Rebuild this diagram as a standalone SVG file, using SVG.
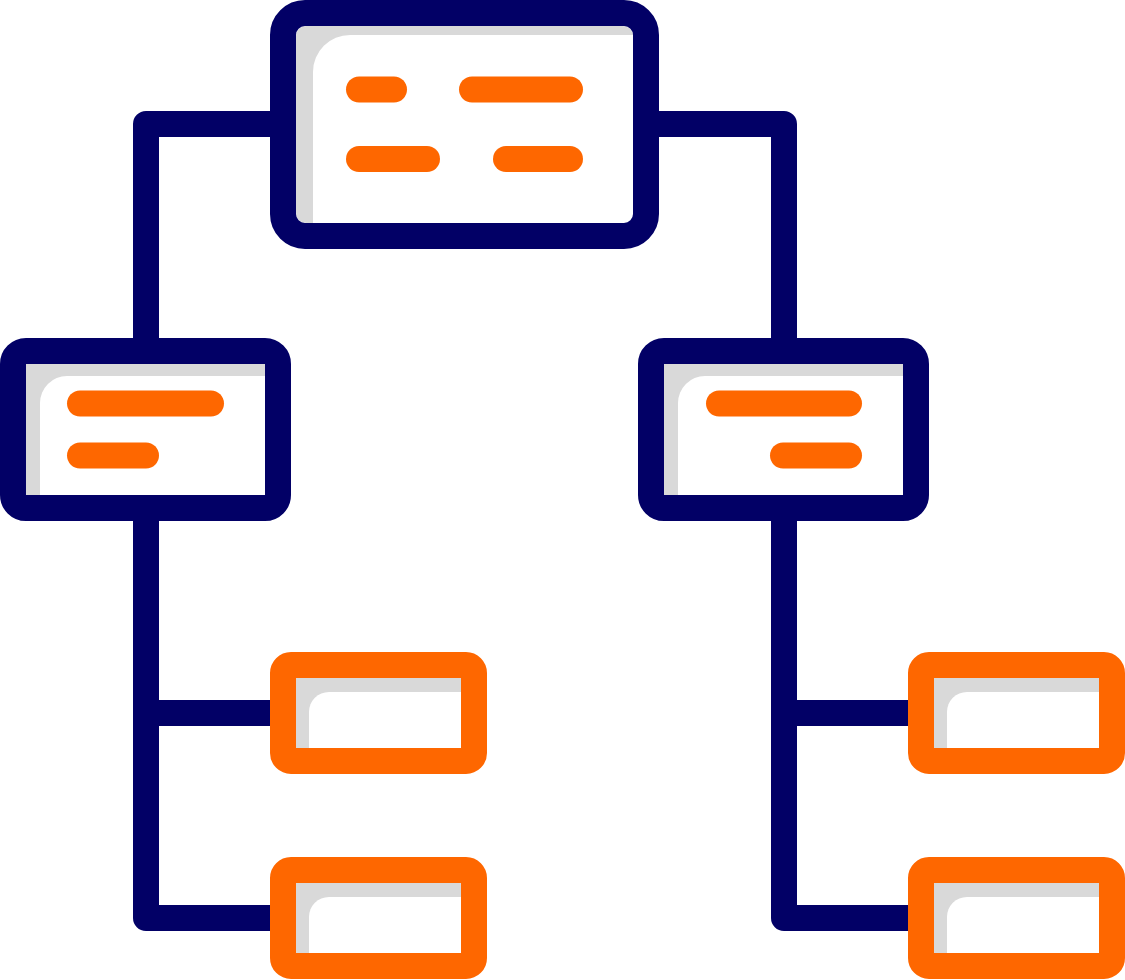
<svg xmlns="http://www.w3.org/2000/svg" width="1125" height="980" viewBox="0 0 1125 980">
<style>
.nv{fill:none;stroke:#020066;stroke-width:26;stroke-linejoin:round}
.or{fill:none;stroke:#FE6700;stroke-width:26}
.dash{fill:none;stroke:#FE6700;stroke-width:26;stroke-linecap:round}
.gray{fill:#D9D9D9}
.wh{fill:#FFFFFF}
</style>
<rect width="1125" height="980" fill="#FFFFFF"/>
<g id="connectors">
<path class="nv" d="M270,124 H146 V351"/>
<path class="nv" d="M659,124 H784 V351"/>
<path class="nv" d="M146,508 V918 H283"/>
<path class="nv" d="M146,713 H283"/>
<path class="nv" d="M784,508 V918 H921"/>
<path class="nv" d="M784,713 H921"/>
</g>
<g id="top">
<rect class="gray" x="296" y="26" width="337" height="197" rx="10"/>
<path class="wh" d="M313,223 V72 A37,37 0 0 1 350,35 H633 V223 Z"/>
<rect class="nv" x="283" y="13" width="363" height="223" rx="22"/>
<line class="dash" x1="359" y1="89.5" x2="394" y2="89.5"/>
<line class="dash" x1="472" y1="89.5" x2="570" y2="89.5"/>
<line class="dash" x1="359" y1="159" x2="427" y2="159"/>
<line class="dash" x1="506" y1="159" x2="570" y2="159"/>
</g>
<g id="midLeft">
<rect class="gray" x="26" y="364" width="239" height="131"/>
<path class="wh" d="M40,495 V403 A27,27 0 0 1 67,376 H265 V495 Z"/>
<rect class="nv" x="13" y="351" width="265" height="157" rx="13"/>
<line class="dash" x1="80" y1="403.5" x2="211" y2="403.5"/>
<line class="dash" x1="80" y1="455.5" x2="146" y2="455.5"/>
</g>
<g id="midRight">
<rect class="gray" x="664" y="364" width="239" height="131"/>
<path class="wh" d="M678,495 V403 A27,27 0 0 1 705,376 H903 V495 Z"/>
<rect class="nv" x="651" y="351" width="265" height="157" rx="13"/>
<line class="dash" x1="719" y1="403.5" x2="849" y2="403.5"/>
<line class="dash" x1="783" y1="455.5" x2="849" y2="455.5"/>
</g>
<g id="leafL1">
<rect class="gray" x="296" y="678" width="165" height="70"/>
<path class="wh" d="M309,748 V712 A20,20 0 0 1 329,692 H461 V748 Z"/>
<rect class="or" x="283" y="665" width="191" height="96" rx="8"/>
</g>
<g id="leafL2">
<rect class="gray" x="296" y="883" width="165" height="70"/>
<path class="wh" d="M309,953 V917 A20,20 0 0 1 329,897 H461 V953 Z"/>
<rect class="or" x="283" y="870" width="191" height="96" rx="8"/>
</g>
<g id="leafR1">
<rect class="gray" x="934" y="678" width="165" height="70"/>
<path class="wh" d="M947,748 V712 A20,20 0 0 1 967,692 H1099 V748 Z"/>
<rect class="or" x="921" y="665" width="191" height="96" rx="8"/>
</g>
<g id="leafR2">
<rect class="gray" x="934" y="883" width="165" height="70"/>
<path class="wh" d="M947,953 V917 A20,20 0 0 1 967,897 H1099 V953 Z"/>
<rect class="or" x="921" y="870" width="191" height="96" rx="8"/>
</g>
</svg>
